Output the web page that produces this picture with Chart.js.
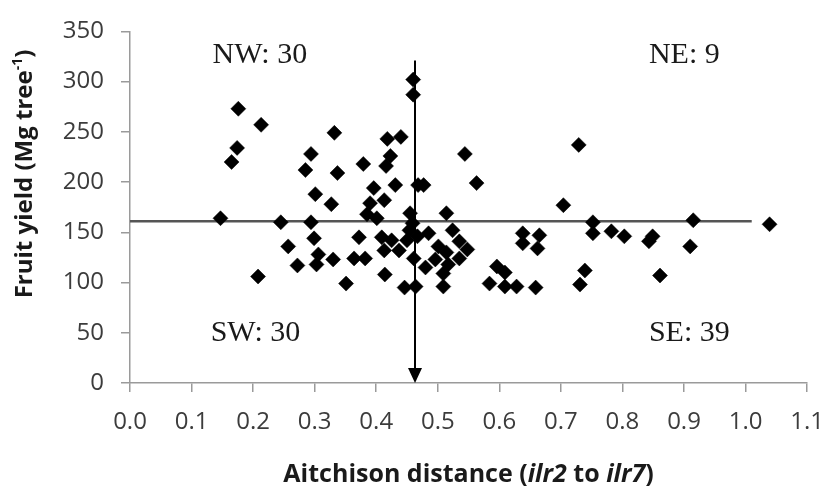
<!DOCTYPE html>
<html>
<head>
<meta charset="utf-8">
<script src="https://cdn.jsdelivr.net/npm/chart.js@4.4.1/dist/chart.umd.min.js"></script>
<style>
  html, body { margin: 0; padding: 0; background: #fff; }
  #wrap { width: 840px; height: 499px; position: relative; }
</style>
</head>
<body>
<div id="wrap"><canvas id="c" width="840" height="499"></canvas></div>
<script>
// ---- data ----
const distX = [
  // NW
  0.176,0.213,0.174,0.165,0.147,0.294,0.285,0.301,0.327,0.332,0.337,0.460,0.460,0.418,0.440,0.423,0.416,0.379,0.431,0.396,0.413,0.390,0.385,0.401,0.455,
  // NE
  0.468,0.477,0.544,0.563,0.514,0.704,0.729,0.915,
  // SW
  0.245,0.294,0.257,0.272,0.299,0.306,0.303,0.330,0.208,0.351,0.364,0.372,0.382,0.409,0.425,0.450,0.459,0.454,0.413,0.437,0.461,0.414,0.446,
  // SE
  0.464,0.467,0.485,0.524,0.501,0.535,0.514,0.548,0.496,0.535,0.480,0.517,0.509,0.509,0.638,0.665,0.638,0.662,0.596,0.609,0.584,0.609,0.628,0.659,0.752,0.752,0.782,0.803,0.849,0.843,0.910,1.039,0.739,0.731,0.861
];
const fruitYield = [
  // NW
  273,257,234,220,164,228,212,188,178,249,209,302,287,243,245,226,216,218,197,194,182,179,168,164,169,
  // NE
  197,197,228,199,169,177,237,162,
  // SW
  160,160,136,117,144,128,118,123,106,99,124,145,124,145,142,142,159,152,132,132,124,108,95,
  // SE
  96,146,149,152,136,141,130,133,123,124,115,118,109,96,149,147,139,134,116,110,99,96,96,95,160,149,151,146,146,141,136,158,112,98,107
];
const xTicks = ['0.0','0.1','0.2','0.3','0.4','0.5','0.6','0.7','0.8','0.9','1.0','1.1'];
const yTicks = [0,50,100,150,200,250,300,350];
const hLineY = 161;          // horizontal reference line (yield)
const hLineX = [0, 1.01];
const vLineX = 0.463;        // vertical reference line (distance)
const vLineY = [321, 0];
const quadLabels = ['NW: 30','NE: 9','SW: 30','SE: 39'];

const points = distX.map((x, i) => ({ x: x, y: fruitYield[i] }));

const AXIS_GRAY = '#9a9a9a';
const TICK_COLOR = '#3c3c3c';

const overlay = {
  id: 'overlay',
  afterDatasetsDraw(chart) {
    const ctx = chart.ctx;
    const xs = chart.scales.x, ys = chart.scales.y;
    const ca = chart.chartArea;
    ctx.save();
    // arrow head at bottom of vertical line
    const ax = xs.getPixelForValue(vLineX);
    const ay = ys.getPixelForValue(vLineY[1]);
    ctx.fillStyle = '#000';
    ctx.beginPath();
    ctx.moveTo(ax, ay);
    ctx.lineTo(ax - 7, ay - 15);
    ctx.lineTo(ax + 7, ay - 15);
    ctx.closePath();
    ctx.fill();

    // quadrant labels
    ctx.font = '30px "Liberation Serif", "Times New Roman", serif';
    ctx.fillStyle = '#1a1a1a';
    ctx.textBaseline = 'middle';
    ctx.textAlign = 'left';
    const qx = [0.134, 0.843, 0.131, 0.843];
    const qy = [326, 326, 50, 50];
    quadLabels.forEach((t, i) => {
      ctx.fillText(t, xs.getPixelForValue(qx[i]), ys.getPixelForValue(qy[i]));
    });

    // x-axis title with italic parts
    const parts = [
      ['Aitchison distance (', false],
      ['ilr2', true],
      [' to ', false],
      ['ilr7', true],
      [')', false]
    ];
    const fam = '"Open Sans", Lato, sans-serif';
    const size = 25;
    let total = 0;
    parts.forEach(p => {
      ctx.font = (p[1] ? 'italic ' : '') + 'bold ' + size + 'px ' + fam;
      total += ctx.measureText(p[0]).width;
    });
    let x = (ca.left + ca.right) / 2 - total / 2;
    const yb = 482;
    ctx.fillStyle = '#1a1a1a';
    ctx.textBaseline = 'alphabetic';
    parts.forEach(p => {
      ctx.font = (p[1] ? 'italic ' : '') + 'bold ' + size + 'px ' + fam;
      ctx.fillText(p[0], x, yb);
      x += ctx.measureText(p[0]).width;
    });

    // y-axis title (rotated) with superscript
    ctx.translate(32, 174);
    ctx.rotate(-Math.PI / 2);
    const main = 'Fruit yield (Mg tree';
    const sup = '-1';
    const end = ')';
    ctx.font = 'bold 24px ' + fam;
    const w1 = ctx.measureText(main).width;
    const w3 = ctx.measureText(end).width;
    ctx.font = 'bold 14px ' + fam;
    const w2 = ctx.measureText(sup).width;
    let sx = -(w1 + w2 + w3) / 2;
    ctx.font = 'bold 24px ' + fam;
    ctx.fillText(main, sx, 0);
    sx += w1;
    ctx.font = 'bold 14px ' + fam;
    ctx.fillText(sup, sx, -10);
    sx += w2;
    ctx.font = 'bold 24px ' + fam;
    ctx.fillText(end, sx, 0);
    ctx.restore();
  }
};

new Chart(document.getElementById('c'), {
  type: 'scatter',
  data: {
    datasets: [
      {
        label: 'yield',
        data: points,
        pointStyle: 'rectRot',
        pointRadius: 7.5,
        pointHoverRadius: 7.5,
        backgroundColor: '#000',
        borderColor: '#000',
        borderWidth: 0.5,
        order: 0
      },
      {
        label: 'h',
        data: hLineX.map(x => ({ x: x, y: hLineY })),
        showLine: true,
        borderColor: '#555',
        borderWidth: 2.5,
        pointRadius: 0,
        order: 2
      },
      {
        label: 'v',
        data: [{ x: vLineX, y: vLineY[0] }, { x: vLineX, y: vLineY[1] + 12 }],
        showLine: true,
        borderColor: '#000',
        borderWidth: 2,
        pointRadius: 0,
        order: 1
      }
    ]
  },
  options: {
    responsive: false,
    animation: false,
    layout: { padding: { left: 0, right: 15, top: 28, bottom: 0 } },
    plugins: { legend: { display: false }, tooltip: { enabled: false } },
    scales: {
      x: {
        type: 'linear',
        min: 0,
        max: 1.1,
        afterFit: s => { s.height = 116; },
        afterBuildTicks: s => { s.ticks = xTicks.map(t => ({ value: parseFloat(t) })); },
        ticks: {
          autoSkip: false,
          maxRotation: 0,
          padding: 16,
          color: TICK_COLOR,
          font: { family: '"Open Sans", Lato, sans-serif', size: 24 },
          callback: (v, i) => xTicks[i]
        },
        grid: { drawOnChartArea: false, drawTicks: true, tickLength: 9, color: AXIS_GRAY, lineWidth: 1.5 },
        border: { display: true, color: AXIS_GRAY, width: 1.5 }
      },
      y: {
        type: 'linear',
        min: 0,
        max: 350,
        afterFit: s => { s.width = 130; },
        afterBuildTicks: s => { s.ticks = yTicks.map(v => ({ value: v })); },
        ticks: {
          autoSkip: false,
          padding: 17,
          color: TICK_COLOR,
          font: { family: '"Open Sans", Lato, sans-serif', size: 24 },
          callback: v => String(v)
        },
        grid: { drawOnChartArea: false, drawTicks: true, tickLength: 9, color: AXIS_GRAY, lineWidth: 1.5 },
        border: { display: true, color: AXIS_GRAY, width: 1.5 }
      }
    }
  },
  plugins: [overlay]
});
</script>
</body>
</html>
